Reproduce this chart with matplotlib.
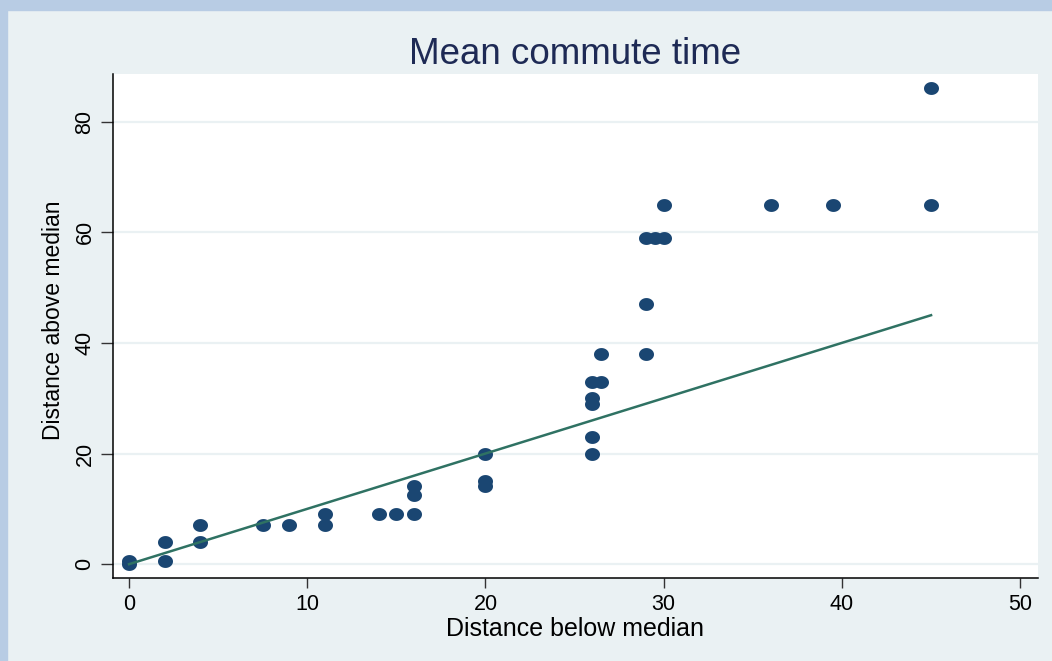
import numpy as np
import matplotlib.pyplot as plt
from matplotlib.path import Path
from matplotlib.patches import Rectangle

plt.rcParams['font.family'] = ['Liberation Sans', 'DejaVu Sans']

# distance below / above the median commute time
below = [0, 0, 2, 2, 4, 4, 7.5, 9, 11, 11,
         14, 15, 16, 16, 16, 20, 20, 20,
         26, 26, 26, 26, 26, 26.5, 26.5,
         29, 29, 29, 29.5, 30, 30,
         36, 39.5, 45, 45]
above = [0, 0.5, 4, 0.5, 7, 4, 7, 7, 9, 7,
         9, 9, 9, 12.5, 14.2, 20, 15, 14.2,
         20, 23, 29, 30, 33, 33, 38,
         38, 47, 59, 59, 59, 65,
         65, 65, 65, 86]

# 45 degree reference line
fit_x = [0, 45]
fit_y = [0, 45]

xticks = [0, 10, 20, 30, 40, 50]
yticks = [0, 20, 40, 60, 80]

bg = '#EAF1F3'
navy = '#1A4672'

# slightly flattened dot
t = np.linspace(0, 2 * np.pi, 60)
dot = Path(np.column_stack([np.cos(t), 0.86 * np.sin(t)]), closed=True)

fig = plt.figure(figsize=(10.52, 6.61), dpi=100, facecolor=bg)
fig.patches.append(Rectangle((0, 0), 7 / 1052, 1, transform=fig.transFigure,
                             color='#B8CCE4', zorder=0))
fig.patches.append(Rectangle((0, 1 - 10 / 661), 1, 10 / 661, transform=fig.transFigure,
                             color='#B8CCE4', zorder=0))

ax = fig.add_axes([113 / 1052, 1 - 578 / 661, 925 / 1052, 504 / 661])
ax.set_facecolor('white')

ax.plot(below, above, linestyle='none', marker=dot, markersize=10.8,
        color=navy, markeredgewidth=0, zorder=3)
ax.plot(fit_x, fit_y, color='#2F7263', linewidth=1.8, zorder=4)

ax.set_xlim(-0.9, 51.0)
ax.set_ylim(-2.5, 88.6)
ax.set_xticks(xticks)
ax.set_yticks(yticks)
ax.grid(axis='y', color=bg, linewidth=1.6)
ax.set_axisbelow(True)

for s in ['top', 'right']:
    ax.spines[s].set_visible(False)
for s in ['left', 'bottom']:
    ax.spines[s].set_linewidth(1.1)
    ax.spines[s].set_color('black')

ax.tick_params(axis='both', width=1, color='#333333', labelsize=15.5)
ax.tick_params(axis='x', length=7.2, pad=4)
ax.tick_params(axis='y', length=8.6, pad=4)
plt.setp(ax.get_yticklabels(), rotation=90, va='center')

ax.set_xlabel('Distance below median', fontsize=18, labelpad=2)
ax.set_ylabel('Distance above median', fontsize=16.5)
ax.yaxis.set_label_coords(-0.052, 0.512)
ax.set_title('Mean commute time', fontsize=26.5, color='#1E2A55', pad=7)

fig.savefig('out.png', dpi=100, facecolor=bg)
